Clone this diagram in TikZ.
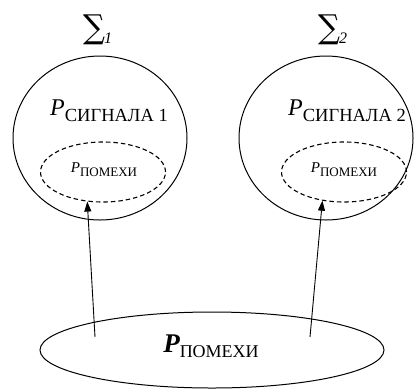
\documentclass[tikz,border=0pt]{standalone}
\usepackage{fontspec}
\setmainfont{Liberation Serif}
\newfontfamily\sigfont{DejaVu Serif}
\usetikzlibrary{shapes.geometric,arrows.meta}
\tikzset{
  outer/.style={draw, ellipse, line width=1pt, inner sep=0pt},
  inner/.style={draw, ellipse, dash pattern=on 4.5pt off 3pt, line width=1.1pt, inner sep=0pt},
  conn/.style={line width=0.9pt, -{Triangle[length=10pt,width=7pt]}},
  lbl/.style={inner sep=0pt, anchor=base},
  sig/.style={inner sep=0pt, anchor=south west},
  sigsub/.style={inner sep=0pt, anchor=base west, font=\fontsize{16}{16}\selectfont\itshape}
}
\begin{document}
\begin{tikzpicture}[x=1pt,y=-1pt]
\useasboundingbox (0,0) rectangle (414,389);
% outer circles
\node[outer, minimum width=174pt, minimum height=164pt] (s1) at (100,138) {};
\node[outer, minimum width=174pt, minimum height=164pt] (s2) at (326,138) {};
% dashed inner
\node[inner, minimum width=125pt, minimum height=60pt] (d1) at (103,172) {};
\node[inner, minimum width=125pt, minimum height=60pt] (d2) at (344,172) {};
% bottom ellipse
\node[outer, minimum width=344pt, minimum height=76pt] (pn) at (212,350) {};
% sigma labels
\node[sig] (sig1) at (83,45) {\resizebox*{22pt}{30pt}{\sigfont ∑}};
\node[sigsub] (sub1) at (104,43) {1};
\node[sig] (sig2) at (318,45) {\resizebox*{22pt}{30pt}{\sigfont ∑}};
\node[sigsub] (sub2) at (339,43) {2};
% signal labels
\node[lbl] (t1) at (109,115) {{\fontsize{24}{24}\selectfont\itshape P}\raisebox{-6pt}{\fontsize{18.5}{18.5}\selectfont СИГНАЛА 1}};
\node[lbl] (t2) at (347,115) {{\fontsize{24}{24}\selectfont\itshape P}\raisebox{-6pt}{\fontsize{18.5}{18.5}\selectfont СИГНАЛА 2}};
% inner labels
\node[lbl] (n1) at (104,172) {{\fontsize{15}{15}\selectfont\itshape P}\raisebox{-4pt}{\fontsize{13}{13}\selectfont ПОМЕХИ}};
\node[lbl] (n2) at (344,172) {{\fontsize{15}{15}\selectfont\itshape P}\raisebox{-4pt}{\fontsize{13}{13}\selectfont ПОМЕХИ}};
% bottom label
\node[lbl] (nb) at (211,352) {{\fontsize{27}{27}\selectfont\bfseries\itshape P}\raisebox{-5pt}{\fontsize{18}{18}\selectfont ПОМЕХИ}};
% arrows
\coordinate (a1) at (95,337);
\coordinate (a2) at (310,337);
\draw[conn] (a1) -- (d1.242);
\draw[conn] (a2) -- (d2.233);
\end{tikzpicture}
\end{document}
